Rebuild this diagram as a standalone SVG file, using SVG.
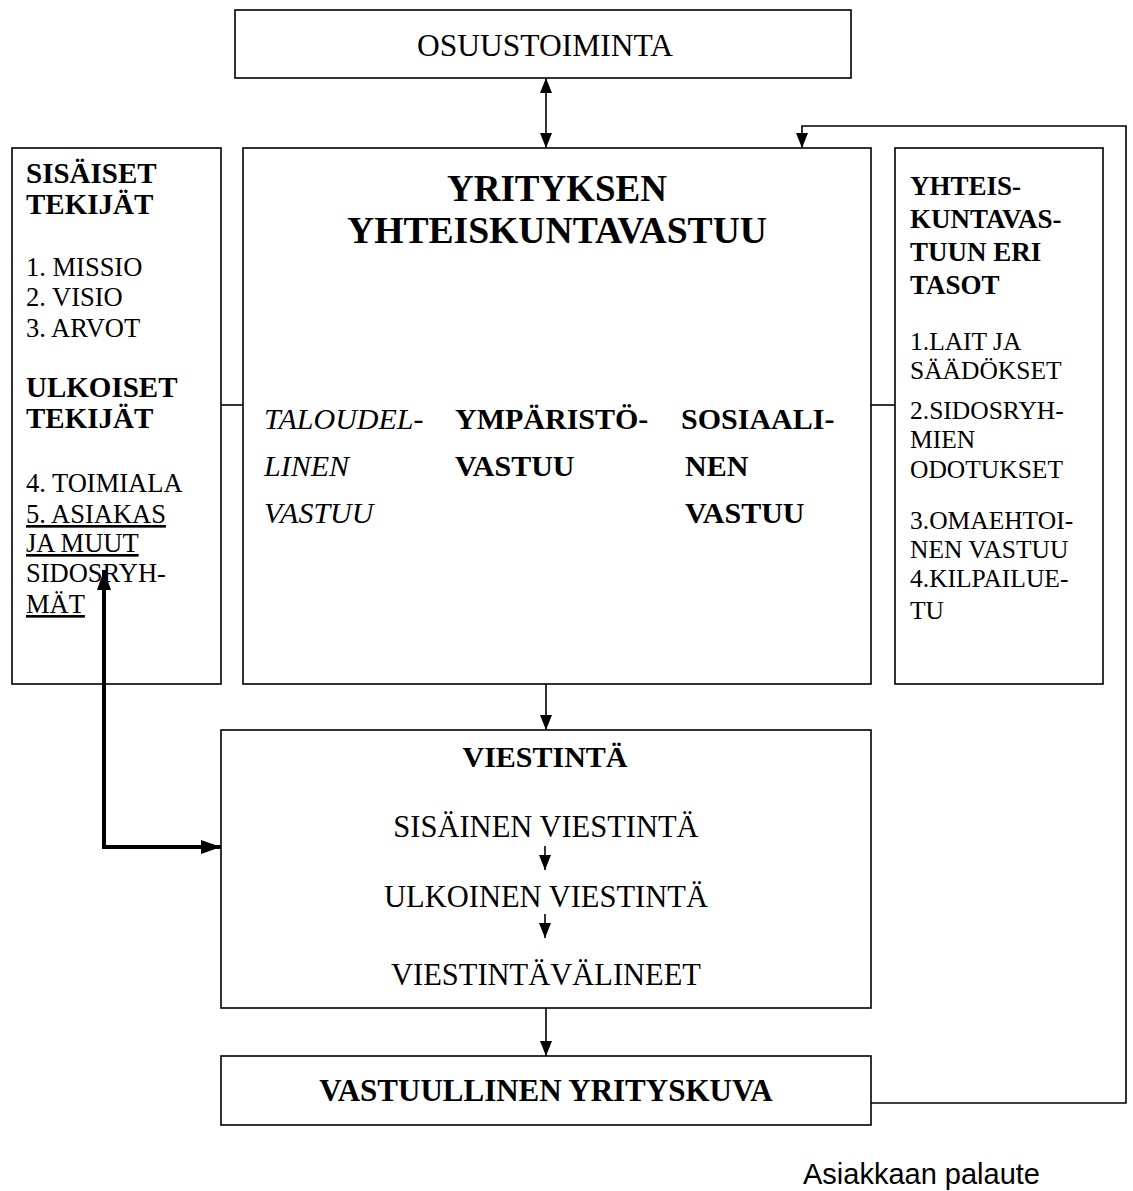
<svg xmlns="http://www.w3.org/2000/svg" width="1133" height="1191" viewBox="0 0 1133 1191">
<defs>
<marker id="ah" markerUnits="userSpaceOnUse" markerWidth="15" markerHeight="12" viewBox="0 0 15 12" refX="15" refY="6" orient="auto-start-reverse"><path d="M0,0 L15,6 L0,12 Z" fill="#000"/></marker>
<marker id="ahb" markerUnits="userSpaceOnUse" markerWidth="20" markerHeight="14" viewBox="0 0 20 14" refX="20" refY="7" orient="auto"><path d="M0,0 L20,7 L0,14 Z" fill="#000"/></marker>
</defs>
<style>
.box{fill:#fff;stroke:#000;stroke-width:1.6}
.ln{fill:none;stroke:#000;stroke-width:1.6}
.thick{fill:none;stroke:#000;stroke-width:4}
text{font-family:"Liberation Serif","Times New Roman",serif;fill:#000}
.b{font-weight:bold}
.i{font-style:italic}
.mid{text-anchor:middle}
.u{text-decoration:underline}
.s26{font-size:26.5px}
.s25{font-size:25.5px}
.s27{font-size:27px}
.s29{font-size:29px}
.s30{font-size:30px}
.sans{font-family:"Liberation Sans",Arial,sans-serif}
</style>
<rect width="1133" height="1191" fill="#fff"/>

<g id="osuustoiminta">
<rect class="box" x="235" y="10" width="616" height="68"/>
<text class="mid" font-size="31.5" x="545" y="56">OSUUSTOIMINTA</text>
</g>

<g id="yhteiskuntavastuu">
<rect class="box" x="243" y="148" width="628" height="536"/>
<text class="b mid" font-size="37" x="557" y="201">YRITYKSEN</text>
<text class="b mid" font-size="37" x="557" y="243" textLength="420" lengthAdjust="spacingAndGlyphs">YHTEISKUNTAVASTUU</text>
<text class="i s30" x="264" y="429">TALOUDEL-</text>
<text class="i s30" x="264" y="476">LINEN</text>
<text class="i s30" x="264" y="523">VASTUU</text>
<text class="b s30" x="455" y="429">YMPÄRISTÖ-</text>
<text class="b s30" x="455" y="476">VASTUU</text>
<text class="b s30" x="681" y="429">SOSIAALI-</text>
<text class="b s30" x="685" y="476">NEN</text>
<text class="b s30" x="685" y="523">VASTUU</text>
</g>

<g id="sisaiset-tekijat">
<rect class="box" x="12" y="148" width="209" height="536"/>
<text class="b s29" x="26" y="183">SISÄISET</text>
<text class="b s29" x="26" y="214">TEKIJÄT</text>
<text class="s26" x="26" y="276">1. MISSIO</text>
<text class="s26" x="26" y="306">2. VISIO</text>
<text class="s26" x="26" y="337">3. ARVOT</text>
<text class="b s29" x="26" y="397">ULKOISET</text>
<text class="b s29" x="26" y="428">TEKIJÄT</text>
<text class="s26" x="26" y="492">4. TOIMIALA</text>
<text class="s26 u" x="26" y="523">5. ASIAKAS</text>
<text class="s26 u" x="26" y="552">JA MUUT</text>
<text class="s26" x="26" y="582">SIDOSRYH-</text>
<text class="s26 u" x="26" y="613">MÄT</text>
</g>

<g id="vastuun-tasot">
<rect class="box" x="895" y="148" width="208" height="536"/>
<text class="b s27" x="910" y="195">YHTEIS-</text>
<text class="b s27" x="910" y="228">KUNTAVAS-</text>
<text class="b s27" x="910" y="261">TUUN ERI</text>
<text class="b s27" x="910" y="294">TASOT</text>
<text class="s25" x="910" y="350">1.LAIT JA</text>
<text class="s25" x="910" y="379">SÄÄDÖKSET</text>
<text class="s25" x="910" y="419">2.SIDOSRYH-</text>
<text class="s25" x="910" y="448">MIEN</text>
<text class="s25" x="910" y="478">ODOTUKSET</text>
<text class="s25" x="910" y="529">3.OMAEHTOI-</text>
<text class="s25" x="910" y="558">NEN VASTUU</text>
<text class="s25" x="910" y="587">4.KILPAILUE-</text>
<text class="s25" x="910" y="619">TU</text>
</g>

<g id="viestinta">
<rect class="box" x="221" y="730" width="650" height="278"/>
<text class="b s30 mid" x="545" y="767">VIESTINTÄ</text>
<text class="mid" font-size="30.5" x="546" y="837">SISÄINEN VIESTINTÄ</text>
<text class="mid" font-size="30.5" x="546" y="907">ULKOINEN VIESTINTÄ</text>
<text class="mid" font-size="30.5" x="546" y="985">VIESTINTÄVÄLINEET</text>
<line class="ln" x1="545" y1="846" x2="545" y2="870" marker-end="url(#ah)"/>
<line class="ln" x1="545" y1="914" x2="545" y2="938" marker-end="url(#ah)"/>
</g>

<g id="yrityskuva">
<rect class="box" x="221" y="1056" width="650" height="69"/>
<text class="b mid" font-size="31" x="546" y="1101">VASTUULLINEN YRITYSKUVA</text>
</g>

<g id="connectors">
<line class="ln" x1="546" y1="78" x2="546" y2="148" marker-start="url(#ah)" marker-end="url(#ah)"/>
<line class="ln" x1="221" y1="405" x2="243" y2="405"/>
<line class="ln" x1="871" y1="405" x2="895" y2="405"/>
<line class="ln" x1="546" y1="684" x2="546" y2="730" marker-end="url(#ah)"/>
<line class="ln" x1="546" y1="1008" x2="546" y2="1056" marker-end="url(#ah)"/>
<polyline class="ln" points="871,1103 1126,1103 1126,126 802,126 802,148" marker-end="url(#ah)"/>
<polyline class="thick" points="104,849 104,570" marker-end="url(#ahb)"/>
<polyline class="thick" points="102,847 221,847" marker-end="url(#ahb)"/>
<text class="sans" font-size="29" x="803" y="1184">Asiakkaan palaute</text>
</g>
</svg>
